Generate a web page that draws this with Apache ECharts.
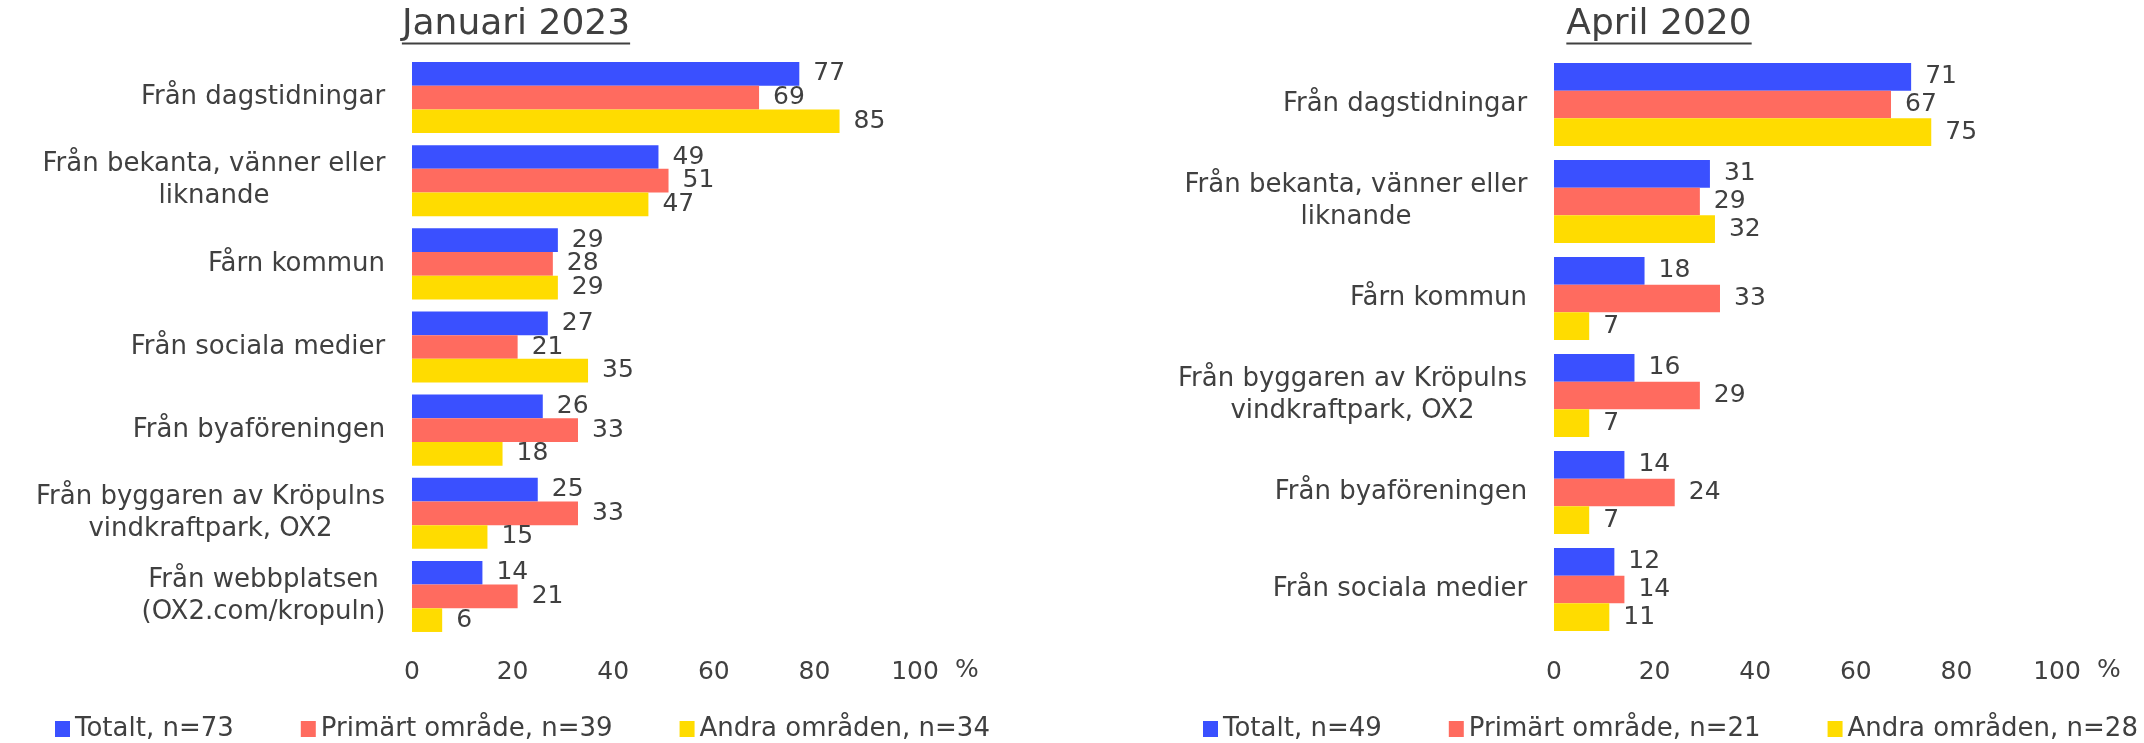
<!DOCTYPE html>
<html><head><meta charset="utf-8">
<script src="https://cdn.jsdelivr.net/npm/echarts@6/dist/echarts.min.js"></script>
<style>html,body{margin:0;padding:0;background:#fff}#c{width:2144px;height:743px}</style>
</head><body><div id="c"></div>
<script>
// ---- data ----
const catsJan = ['Från dagstidningar','Från bekanta, vänner eller\nliknande','Fårn kommun','Från sociala medier','Från byaföreningen','Från byggaren av Kröpulns\nvindkraftpark, OX2','Från webbplatsen\n(OX2.com/kropuln)'];
const totJan = [77,49,29,27,26,25,14];
const primJan = [69,51,28,21,33,33,21];
const andraJan = [85,47,29,35,18,15,6];
const namesJan = ['Totalt, n=73','Primärt område, n=39','Andra områden, n=34'];

const catsApr = ['Från dagstidningar','Från bekanta, vänner eller\nliknande','Fårn kommun','Från byggaren av Kröpulns\nvindkraftpark, OX2','Från byaföreningen','Från sociala medier'];
const totApr = [71,31,18,16,14,12];
const primApr = [67,29,33,29,24,14];
const andraApr = [75,32,7,7,7,11];
const namesApr = ['Totalt, n=49','Primärt område, n=21','Andra områden, n=28'];

const titles = ['Januari 2023','April 2020'];
const axisMax = 100, axisStep = 20;
const axisUnit = '%';

// ---- style ----
const FONT = 'DejaVu Sans';
const FS = 25;
const FS_CAT = 26;
const TXT = '#404040';
const COLORS = ['#3A50FF','#FF6B5F','#FFDC00'];

const cv = document.createElement('canvas').getContext('2d');
function tw(t, fs){ cv.font = fs + 'px "' + FONT + '"'; return cv.measureText(t).width; }

function catRich(cats){
  const r = {};
  cats.forEach((c,i)=>{
    const w = Math.max(...c.split('\n').map(l=>tw(l,FS_CAT)));
    r['c'+i] = {width: Math.ceil(w)+1, align:'center', fontFamily: FONT, fontSize: FS_CAT, color: TXT, lineHeight: 32};
  });
  return r;
}
function catFmt(v, i){ return v.split('\n').map(l=>'{c'+i+'|'+l+'}').join('\n'); }

function titleOpt(text, cx){
  const w = tw(text, 36);
  return {
    text: '{t|' + text + '}\n{u|}',
    left: cx - w/2, top: 8, padding: 0,
    textStyle: {fontWeight: 'normal', rich: {
      t: {fontFamily: FONT, fontSize: 36, fontWeight: 'normal', color: TXT, lineHeight: 34},
      u: {width: w, height: 2, backgroundColor: TXT, lineHeight: 3}
    }}
  };
}

const grids = [
  {left: 412, width: 503, top: 56, height: 582},
  {left: 1554, width: 503, top: 56, height: 582}
];

function xAx(gi){
  return {
    gridIndex: gi, type: 'value', min: 0, max: axisMax, interval: axisStep,
    axisLine: {show:false}, axisTick: {show:false}, splitLine: {show:false},
    axisLabel: {fontFamily: FONT, fontSize: FS, color: TXT, margin: 22},
    name: axisUnit, nameLocation: 'end', nameGap: 40,
    nameTextStyle: {fontFamily: FONT, fontSize: FS, color: TXT, verticalAlign: 'top', padding: [20,0,0,0]}
  };
}
function yAx(gi, cats){
  return {
    gridIndex: gi, type: 'category', data: cats, inverse: true,
    axisLine: {show:false}, axisTick: {show:false},
    axisLabel: {margin: 26, formatter: catFmt, rich: catRich(cats)}
  };
}
function bar(name, data, gi, ci){
  return {
    type: 'bar', name, data, xAxisIndex: gi, yAxisIndex: gi,
    barGap: '0%', barCategoryGap: '14.5%',
    itemStyle: {color: COLORS[ci]},
    label: {show: true, position: 'right', distance: 14, fontFamily: FONT, fontSize: FS, color: TXT},
    emphasis: {disabled: true}
  };
}
function legendOpt(names, left){
  return {
    data: names, left, top: 711, icon: 'rect', itemWidth: 15, itemHeight: 16, itemGap: 67,
    selectedMode: false,
    textStyle: {fontFamily: FONT, fontSize: 26, color: TXT}
  };
}

const chart = echarts.init(document.getElementById('c'), null, {renderer: 'canvas'});
chart.setOption({
  animation: false,
  backgroundColor: '#fff',
  title: [titleOpt(titles[0], 516), titleOpt(titles[1], 1659)],
  grid: grids,
  xAxis: [xAx(0), xAx(1)],
  yAxis: [yAx(0, catsJan), yAx(1, catsApr)],
  legend: [legendOpt(namesJan, 50), legendOpt(namesApr, 1198)],
  series: [
    bar(namesJan[0], totJan, 0, 0), bar(namesJan[1], primJan, 0, 1), bar(namesJan[2], andraJan, 0, 2),
    bar(namesApr[0], totApr, 1, 0), bar(namesApr[1], primApr, 1, 1), bar(namesApr[2], andraApr, 1, 2)
  ]
});
</script></body></html>
